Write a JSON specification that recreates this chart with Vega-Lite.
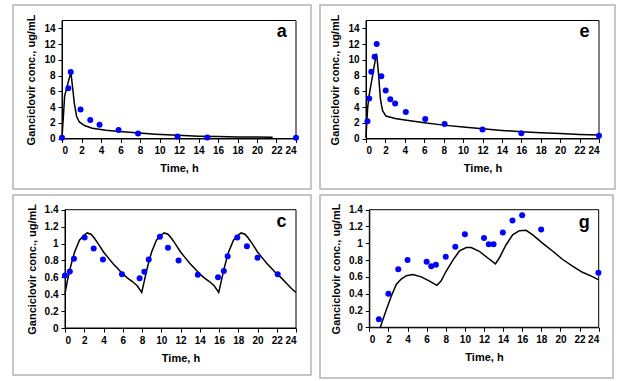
{
  "$schema": "https://vega.github.io/schema/vega-lite/v6.json",
  "background": "white",
  "padding": {"left": 12, "top": 4, "right": 0, "bottom": 0},
  "config": {
    "view": {"stroke": "#b4b4b4", "strokeWidth": 1.5},
    "font": "Liberation Sans",
    "axis": {"grid": false, "domainColor": "black", "tickColor": "black", "labelColor": "black", "titleColor": "black", "labelFont": "Liberation Sans", "titleFont": "Liberation Sans", "labelFontWeight": "bold", "titleFontWeight": "bold", "labelFontSize": 10, "titleFontSize": 11, "tickSize": 4, "labelPadding": 3, "titlePadding": 7, "domainWidth": 1, "labelOverlap": false}
  },
  "datasets": {
    "pa": [{"t":0,"v":0.08},{"t":0.65,"v":6.4},{"t":0.9,"v":8.45},{"t":1.9,"v":3.7},{"t":2.9,"v":2.35},{"t":3.85,"v":1.74},{"t":5.8,"v":1.07},{"t":7.8,"v":0.62},{"t":11.85,"v":0.27},{"t":14.9,"v":0.14},{"t":24,"v":0.1}],
    "la": [{"t":0,"v":0},{"t":0.07,"v":1.5},{"t":0.14,"v":2.8},{"t":0.27,"v":5.4},{"t":0.48,"v":6.4},{"t":0.75,"v":7.7},{"t":0.92,"v":8.35},{"t":1.03,"v":7.1},{"t":1.15,"v":5.8},{"t":1.26,"v":4.5},{"t":1.5,"v":2.8},{"t":1.78,"v":2.1},{"t":2.3,"v":1.65},{"t":3.1,"v":1.3},{"t":4.5,"v":1.06},{"t":5.9,"v":0.9},{"t":7.9,"v":0.7},{"t":9.6,"v":0.55},{"t":11.9,"v":0.4},{"t":14,"v":0.3},{"t":16,"v":0.25},{"t":18,"v":0.2},{"t":20,"v":0.18},{"t":21.6,"v":0.17}],
    "pe": [{"t":0.15,"v":2.2},{"t":0.33,"v":5.1},{"t":0.55,"v":8.5},{"t":0.89,"v":10.4},{"t":1.1,"v":12.0},{"t":1.58,"v":7.9},{"t":2.03,"v":6.1},{"t":2.5,"v":5.0},{"t":3.0,"v":4.45},{"t":4.1,"v":3.36},{"t":6.1,"v":2.48},{"t":8.1,"v":1.85},{"t":12,"v":1.13},{"t":16,"v":0.67},{"t":24,"v":0.34}],
    "le": [{"t":0,"v":0.2},{"t":0.08,"v":2.0},{"t":0.17,"v":3.9},{"t":0.3,"v":5.3},{"t":0.45,"v":6.4},{"t":0.69,"v":8.1},{"t":0.93,"v":9.8},{"t":1.07,"v":10.8},{"t":1.17,"v":9.8},{"t":1.27,"v":8.5},{"t":1.38,"v":6.7},{"t":1.48,"v":5.1},{"t":1.6,"v":4.2},{"t":1.72,"v":3.5},{"t":2.06,"v":2.85},{"t":3,"v":2.55},{"t":4,"v":2.35},{"t":6,"v":2.0},{"t":8,"v":1.7},{"t":10,"v":1.45},{"t":12,"v":1.25},{"t":14,"v":1.03},{"t":16,"v":0.85},{"t":18,"v":0.72},{"t":20,"v":0.62},{"t":22,"v":0.52},{"t":24,"v":0.45}],
    "pc": [{"t":0,"v":0.62},{"t":0.5,"v":0.67},{"t":0.93,"v":0.82},{"t":2.04,"v":1.07},{"t":2.98,"v":0.94},{"t":3.94,"v":0.81},{"t":5.92,"v":0.635},{"t":7.75,"v":0.59},{"t":8.24,"v":0.667},{"t":8.7,"v":0.81},{"t":9.86,"v":1.08},{"t":10.7,"v":0.95},{"t":11.8,"v":0.8},{"t":13.8,"v":0.63},{"t":15.9,"v":0.6},{"t":16.5,"v":0.675},{"t":16.9,"v":0.85},{"t":17.9,"v":1.07},{"t":18.9,"v":0.966},{"t":20.0,"v":0.83},{"t":22.1,"v":0.635}],
    "lc": [{"t":0,"v":0.41},{"t":0.25,"v":0.56},{"t":0.5,"v":0.69},{"t":0.75,"v":0.8},{"t":1,"v":0.9},{"t":1.5,"v":1.04},{"t":2,"v":1.1},{"t":2.3,"v":1.125},{"t":2.7,"v":1.11},{"t":3,"v":1.07},{"t":3.5,"v":0.99},{"t":4,"v":0.9},{"t":4.5,"v":0.83},{"t":5,"v":0.76},{"t":5.5,"v":0.7},{"t":6,"v":0.64},{"t":6.5,"v":0.59},{"t":7,"v":0.55},{"t":7.5,"v":0.5},{"t":7.97,"v":0.42},
           {"t":8.25,"v":0.56},{"t":8.5,"v":0.69},{"t":8.75,"v":0.8},{"t":9,"v":0.9},{"t":9.5,"v":1.04},{"t":10,"v":1.1},{"t":10.3,"v":1.125},{"t":10.7,"v":1.11},{"t":11,"v":1.07},{"t":11.5,"v":0.99},{"t":12,"v":0.9},{"t":12.5,"v":0.83},{"t":13,"v":0.76},{"t":13.5,"v":0.7},{"t":14,"v":0.64},{"t":14.5,"v":0.59},{"t":15,"v":0.55},{"t":15.5,"v":0.5},{"t":15.97,"v":0.42},
           {"t":16.25,"v":0.56},{"t":16.5,"v":0.69},{"t":16.75,"v":0.8},{"t":17,"v":0.9},{"t":17.5,"v":1.04},{"t":18,"v":1.1},{"t":18.3,"v":1.125},{"t":18.7,"v":1.11},{"t":19,"v":1.07},{"t":19.5,"v":0.99},{"t":20,"v":0.9},{"t":20.5,"v":0.83},{"t":21,"v":0.76},{"t":21.5,"v":0.7},{"t":22,"v":0.64},{"t":22.5,"v":0.59},{"t":23,"v":0.53},{"t":23.5,"v":0.47},{"t":24,"v":0.42}],
    "pg": [{"t":1,"v":0.095},{"t":2,"v":0.4},{"t":3.03,"v":0.69},{"t":4,"v":0.8},{"t":6,"v":0.78},{"t":6.48,"v":0.726},{"t":6.97,"v":0.746},{"t":8,"v":0.84},{"t":9,"v":0.96},{"t":10,"v":1.107},{"t":12,"v":1.063},{"t":12.5,"v":0.988},{"t":13,"v":0.988},{"t":13.97,"v":1.13},{"t":14.98,"v":1.27},{"t":15.99,"v":1.333},{"t":17.98,"v":1.163},{"t":23.97,"v":0.65}],
    "lg": [{"t":1.15,"v":0},{"t":1.78,"v":0.21},{"t":2.3,"v":0.37},{"t":2.82,"v":0.51},{"t":3.34,"v":0.575},{"t":3.87,"v":0.615},{"t":4.56,"v":0.627},{"t":5.44,"v":0.6},{"t":6.3,"v":0.55},{"t":7.07,"v":0.5},{"t":7.5,"v":0.55},{"t":8.05,"v":0.67},{"t":8.75,"v":0.8},{"t":9.44,"v":0.91},{"t":10.14,"v":0.95},{"t":10.66,"v":0.95},{"t":11.5,"v":0.905},{"t":12.4,"v":0.825},{"t":13.2,"v":0.755},{"t":13.6,"v":0.825},{"t":14.3,"v":0.98},{"t":15.0,"v":1.1},{"t":15.7,"v":1.15},{"t":16.4,"v":1.155},{"t":17.1,"v":1.1},{"t":18.15,"v":1.0},{"t":19.2,"v":0.905},{"t":20.2,"v":0.81},{"t":21.3,"v":0.725},{"t":22.3,"v":0.655},{"t":23.4,"v":0.6},{"t":24,"v":0.565}]
  },
  "vconcat": [
    {
      "hconcat": [
        {
          "width": 298, "height": 184,
          "layer": [
            {"data": {"values": [{}]}, "mark": {"type": "rect", "fill": null, "stroke": "black", "strokeWidth": 1},
             "encoding": {
               "x": {"datum": 0, "type": "quantitative", "scale": {"domain": [0, 24], "range": [49, 283], "nice": false, "zero": false}, "axis": {"values": [0,2,4,6,8,10,12,14,16,18,20,22,24], "title": "Time, h", "offset": -50.5}},
               "x2": {"datum": 24},
               "y": {"datum": 0, "type": "quantitative", "scale": {"domain": [0, 15], "range": [133.5, 15.5], "nice": false, "zero": false}, "axis": {"values": [0,2,4,6,8,10,12,14], "title": "Ganciclovir conc., ug/mL", "offset": -49, "format": "~g"}},
               "y2": {"datum": 15}}},
            {"data": {"name": "la"}, "mark": {"type": "line", "color": "black", "strokeWidth": 1.5},
             "encoding": {
               "x": {"field": "t", "type": "quantitative", "scale": {"domain": [0, 24], "range": [49, 283], "nice": false, "zero": false}, "axis": {"values": [0,2,4,6,8,10,12,14,16,18,20,22,24], "title": "Time, h", "offset": -50.5}},
               "y": {"field": "v", "type": "quantitative", "scale": {"domain": [0, 15], "range": [133.5, 15.5], "nice": false, "zero": false}, "axis": {"values": [0,2,4,6,8,10,12,14], "title": "Ganciclovir conc., ug/mL", "offset": -49, "format": "~g"}}}},
            {"data": {"name": "pa"}, "mark": {"type": "circle", "color": "#0000ff", "opacity": 1, "size": 36},
             "encoding": {
               "x": {"field": "t", "type": "quantitative", "scale": {"domain": [0, 24], "range": [49, 283], "nice": false, "zero": false}, "axis": {"values": [0,2,4,6,8,10,12,14,16,18,20,22,24], "title": "Time, h", "offset": -50.5}},
               "y": {"field": "v", "type": "quantitative", "scale": {"domain": [0, 15], "range": [133.5, 15.5], "nice": false, "zero": false}, "axis": {"values": [0,2,4,6,8,10,12,14], "title": "Ganciclovir conc., ug/mL", "offset": -49, "format": "~g"}}}},
            {"data": {"values": [{}]}, "mark": {"type": "text", "text": "a", "fontSize": 18, "fontWeight": "bold", "align": "center", "baseline": "alphabetic", "color": "black"},
             "encoding": {
               "x": {"datum": 22.55, "type": "quantitative", "scale": {"domain": [0, 24], "range": [49, 283], "nice": false, "zero": false}, "axis": {"values": [0,2,4,6,8,10,12,14,16,18,20,22,24], "title": "Time, h", "offset": -50.5}},
               "y": {"datum": 12.9, "type": "quantitative", "scale": {"domain": [0, 15], "range": [133.5, 15.5], "nice": false, "zero": false}, "axis": {"values": [0,2,4,6,8,10,12,14], "title": "Ganciclovir conc., ug/mL", "offset": -49, "format": "~g"}}}}
          ]
        },
        {
          "width": 295, "height": 184,
          "layer": [
            {"data": {"values": [{}]}, "mark": {"type": "rect", "fill": null, "stroke": "black", "strokeWidth": 1},
             "encoding": {
               "x": {"datum": 0, "type": "quantitative", "scale": {"domain": [0, 24], "range": [46, 279], "nice": false, "zero": false}, "axis": {"values": [0,2,4,6,8,10,12,14,16,18,20,22,24], "title": "Time, h", "offset": -50.5}},
               "x2": {"datum": 24},
               "y": {"datum": 0, "type": "quantitative", "scale": {"domain": [0, 15], "range": [133.5, 15.5], "nice": false, "zero": false}, "axis": {"values": [0,2,4,6,8,10,12,14], "title": "Ganciclovir conc., ug/mL", "offset": -46, "format": "~g"}},
               "y2": {"datum": 15}}},
            {"data": {"name": "le"}, "mark": {"type": "line", "color": "black", "strokeWidth": 1.5},
             "encoding": {
               "x": {"field": "t", "type": "quantitative", "scale": {"domain": [0, 24], "range": [46, 279], "nice": false, "zero": false}, "axis": {"values": [0,2,4,6,8,10,12,14,16,18,20,22,24], "title": "Time, h", "offset": -50.5}},
               "y": {"field": "v", "type": "quantitative", "scale": {"domain": [0, 15], "range": [133.5, 15.5], "nice": false, "zero": false}, "axis": {"values": [0,2,4,6,8,10,12,14], "title": "Ganciclovir conc., ug/mL", "offset": -46, "format": "~g"}}}},
            {"data": {"name": "pe"}, "mark": {"type": "circle", "color": "#0000ff", "opacity": 1, "size": 36},
             "encoding": {
               "x": {"field": "t", "type": "quantitative", "scale": {"domain": [0, 24], "range": [46, 279], "nice": false, "zero": false}, "axis": {"values": [0,2,4,6,8,10,12,14,16,18,20,22,24], "title": "Time, h", "offset": -50.5}},
               "y": {"field": "v", "type": "quantitative", "scale": {"domain": [0, 15], "range": [133.5, 15.5], "nice": false, "zero": false}, "axis": {"values": [0,2,4,6,8,10,12,14], "title": "Ganciclovir conc., ug/mL", "offset": -46, "format": "~g"}}}},
            {"data": {"values": [{}]}, "mark": {"type": "text", "text": "e", "fontSize": 18, "fontWeight": "bold", "align": "center", "baseline": "alphabetic", "color": "black"},
             "encoding": {
               "x": {"datum": 22.5, "type": "quantitative", "scale": {"domain": [0, 24], "range": [46, 279], "nice": false, "zero": false}, "axis": {"values": [0,2,4,6,8,10,12,14,16,18,20,22,24], "title": "Time, h", "offset": -50.5}},
               "y": {"datum": 12.86, "type": "quantitative", "scale": {"domain": [0, 15], "range": [133.5, 15.5], "nice": false, "zero": false}, "axis": {"values": [0,2,4,6,8,10,12,14], "title": "Ganciclovir conc., ug/mL", "offset": -46, "format": "~g"}}}}
          ]
        }
      ],
      "spacing": 7
    },
    {
      "hconcat": [
        {
          "width": 298, "height": 180,
          "layer": [
            {"data": {"values": [{}]}, "mark": {"type": "rect", "fill": null, "stroke": "black", "strokeWidth": 1},
             "encoding": {
               "x": {"datum": 0, "type": "quantitative", "scale": {"domain": [0, 24], "range": [52, 283], "nice": false, "zero": false}, "axis": {"values": [0,2,4,6,8,10,12,14,16,18,20,22,24], "title": "Time, h", "offset": -47}},
               "x2": {"datum": 24},
               "y": {"datum": 0, "type": "quantitative", "scale": {"domain": [0, 1.4], "range": [133, 14.7], "nice": false, "zero": false}, "axis": {"values": [0,0.2,0.4,0.6,0.8,1,1.2,1.4], "title": "Ganciclovir conc., ug/mL", "offset": -52, "format": "~g"}},
               "y2": {"datum": 1.4}}},
            {"data": {"name": "lc"}, "mark": {"type": "line", "color": "black", "strokeWidth": 1.5},
             "encoding": {
               "x": {"field": "t", "type": "quantitative", "scale": {"domain": [0, 24], "range": [52, 283], "nice": false, "zero": false}, "axis": {"values": [0,2,4,6,8,10,12,14,16,18,20,22,24], "title": "Time, h", "offset": -47}},
               "y": {"field": "v", "type": "quantitative", "scale": {"domain": [0, 1.4], "range": [133, 14.7], "nice": false, "zero": false}, "axis": {"values": [0,0.2,0.4,0.6,0.8,1,1.2,1.4], "title": "Ganciclovir conc., ug/mL", "offset": -52, "format": "~g"}}}},
            {"data": {"name": "pc"}, "mark": {"type": "circle", "color": "#0000ff", "opacity": 1, "size": 36},
             "encoding": {
               "x": {"field": "t", "type": "quantitative", "scale": {"domain": [0, 24], "range": [52, 283], "nice": false, "zero": false}, "axis": {"values": [0,2,4,6,8,10,12,14,16,18,20,22,24], "title": "Time, h", "offset": -47}},
               "y": {"field": "v", "type": "quantitative", "scale": {"domain": [0, 1.4], "range": [133, 14.7], "nice": false, "zero": false}, "axis": {"values": [0,0.2,0.4,0.6,0.8,1,1.2,1.4], "title": "Ganciclovir conc., ug/mL", "offset": -52, "format": "~g"}}}},
            {"data": {"values": [{}]}, "mark": {"type": "text", "text": "c", "fontSize": 18, "fontWeight": "bold", "align": "center", "baseline": "alphabetic", "color": "black"},
             "encoding": {
               "x": {"datum": 22.5, "type": "quantitative", "scale": {"domain": [0, 24], "range": [52, 283], "nice": false, "zero": false}, "axis": {"values": [0,2,4,6,8,10,12,14,16,18,20,22,24], "title": "Time, h", "offset": -47}},
               "y": {"datum": 1.2, "type": "quantitative", "scale": {"domain": [0, 1.4], "range": [133, 14.7], "nice": false, "zero": false}, "axis": {"values": [0,0.2,0.4,0.6,0.8,1,1.2,1.4], "title": "Ganciclovir conc., ug/mL", "offset": -52, "format": "~g"}}}}
          ]
        },
        {
          "width": 293, "height": 183,
          "layer": [
            {"data": {"values": [{}]}, "mark": {"type": "rect", "fill": null, "stroke": "black", "strokeWidth": 1},
             "encoding": {
               "x": {"datum": 0, "type": "quantitative", "scale": {"domain": [0, 24], "range": [49.3, 278.7], "nice": false, "zero": false}, "axis": {"values": [0,2,4,6,8,10,12,14,16,18,20,22,24], "title": "Time, h", "offset": -50.7}},
               "x2": {"datum": 24},
               "y": {"datum": 0, "type": "quantitative", "scale": {"domain": [0, 1.4], "range": [132.3, 14.7], "nice": false, "zero": false}, "axis": {"values": [0,0.2,0.4,0.6,0.8,1,1.2,1.4], "title": "Ganciclovir conc., ug/mL", "offset": -49.3, "format": "~g"}},
               "y2": {"datum": 1.4}}},
            {"data": {"name": "lg"}, "mark": {"type": "line", "color": "black", "strokeWidth": 1.5},
             "encoding": {
               "x": {"field": "t", "type": "quantitative", "scale": {"domain": [0, 24], "range": [49.3, 278.7], "nice": false, "zero": false}, "axis": {"values": [0,2,4,6,8,10,12,14,16,18,20,22,24], "title": "Time, h", "offset": -50.7}},
               "y": {"field": "v", "type": "quantitative", "scale": {"domain": [0, 1.4], "range": [132.3, 14.7], "nice": false, "zero": false}, "axis": {"values": [0,0.2,0.4,0.6,0.8,1,1.2,1.4], "title": "Ganciclovir conc., ug/mL", "offset": -49.3, "format": "~g"}}}},
            {"data": {"name": "pg"}, "mark": {"type": "circle", "color": "#0000ff", "opacity": 1, "size": 36},
             "encoding": {
               "x": {"field": "t", "type": "quantitative", "scale": {"domain": [0, 24], "range": [49.3, 278.7], "nice": false, "zero": false}, "axis": {"values": [0,2,4,6,8,10,12,14,16,18,20,22,24], "title": "Time, h", "offset": -50.7}},
               "y": {"field": "v", "type": "quantitative", "scale": {"domain": [0, 1.4], "range": [132.3, 14.7], "nice": false, "zero": false}, "axis": {"values": [0,0.2,0.4,0.6,0.8,1,1.2,1.4], "title": "Ganciclovir conc., ug/mL", "offset": -49.3, "format": "~g"}}}},
            {"data": {"values": [{}]}, "mark": {"type": "text", "text": "g", "fontSize": 18, "fontWeight": "bold", "align": "center", "baseline": "alphabetic", "color": "black"},
             "encoding": {
               "x": {"datum": 22.5, "type": "quantitative", "scale": {"domain": [0, 24], "range": [49.3, 278.7], "nice": false, "zero": false}, "axis": {"values": [0,2,4,6,8,10,12,14,16,18,20,22,24], "title": "Time, h", "offset": -50.7}},
               "y": {"datum": 1.18, "type": "quantitative", "scale": {"domain": [0, 1.4], "range": [132.3, 14.7], "nice": false, "zero": false}, "axis": {"values": [0,0.2,0.4,0.6,0.8,1,1.2,1.4], "title": "Ganciclovir conc., ug/mL", "offset": -49.3, "format": "~g"}}}}
          ]
        }
      ],
      "spacing": 7
    }
  ],
  "spacing": 4
}
